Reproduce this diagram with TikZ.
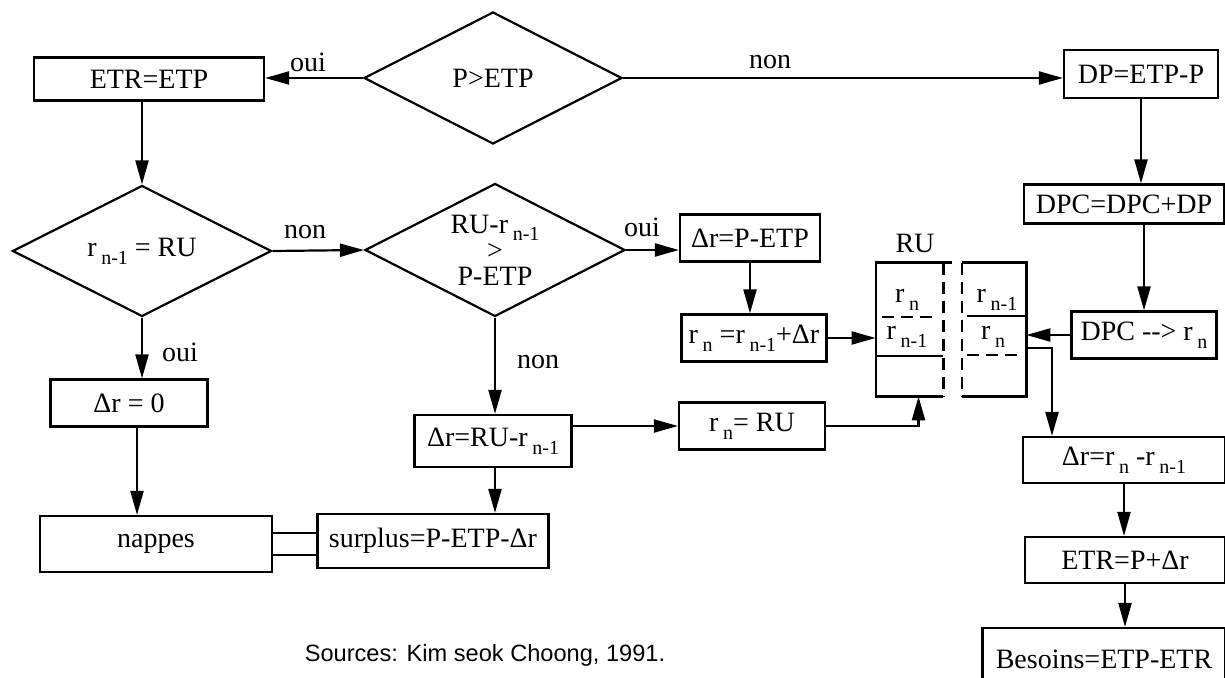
\documentclass[tikz,border=0pt]{standalone}
\usepackage{fontspec}
\setmainfont{Liberation Serif}
\newfontfamily\srcfont{Liberation Sans}
\usetikzlibrary{arrows.meta,shapes.geometric}
\newcommand{\subidx}[1]{\,\raisebox{-0.6ex}{\fontsize{10}{10}\selectfont #1}}

\begin{document}
\begin{tikzpicture}[x=0.5pt,y=-0.5pt,
    box/.style={draw,line width=1.1pt,inner sep=0pt,font=\fontsize{14}{16}\selectfont,align=center},
    dec/.style={draw,diamond,shape aspect=2,line width=1.1pt,inner sep=0pt,
                font=\fontsize{14}{13}\selectfont,align=center},
    arr/.style={-{Triangle[length=12pt,width=6.5pt]},line width=1.1pt},
    wall/.style={line width=1.1pt},
    gap/.style={line width=1.1pt,dash pattern=on 6pt off 3.5pt},
    lbl/.style={inner sep=0pt,font=\fontsize{14}{16}\selectfont}
  ]
    \useasboundingbox (0,0) rectangle (1225,678);
    \node[box,minimum width=115pt,minimum height=21.5pt] (etretp) at (149,79) {ETR=ETP};
    \node[dec,minimum width=129pt,minimum height=66pt] (pgtetp) at (493,78) {P>ETP};
    \node[box,minimum width=77pt,minimum height=24pt] (dp) at (1141,74) {DP=ETP-P};
    \node[box,minimum width=100pt,minimum height=19.5pt] (dpc) at (1124,204) {DPC=DPC+DP};
    \node[box,minimum width=72.5pt,minimum height=23.5pt] (dpcr) at (1144,335) {DPC -{}-{}> r\subidx{n}};
    \node[dec,minimum width=129.5pt,minimum height=65.5pt] (rneq) at (142,251) {r\subidx{n-1} = RU};
    \node[dec,minimum width=130pt,minimum height=66.5pt] (rudiam) at (495,250) {RU-r\subidx{n-1}\\>\\P-ETP};
    \node[box,minimum width=70pt,minimum height=23.5pt] (drp) at (750,238) {Δr=P-ETP};
    \node[box,minimum width=72.5pt,minimum height=23.5pt] (rnupd) at (754,338) {r\subidx{n} =r\subidx{n-1}+Δr};
    \node[box,minimum width=78.5pt,minimum height=23.5pt] (dr0) at (129,403) {Δr = 0};
    \node[box,minimum width=116pt,minimum height=28pt] (nappes) at (156,544) {nappes};
    \node[box,minimum width=78.5pt,minimum height=26pt] (drru) at (493,441) {Δr=RU-r\subidx{n-1}};
    \node[box,minimum width=115.5pt,minimum height=27pt] (surplus) at (433,541) {surplus=P-ETP-Δr};
    \node[box,minimum width=73pt,minimum height=23.5pt] (rnru) at (752,426) {r\subidx{n}= RU};
    \node[box,minimum width=101pt,minimum height=23pt] (drrn) at (1124,460) {Δr=r\subidx{n} -r\subidx{n-1}};
    \node[box,minimum width=100pt,minimum height=23pt] (etrp) at (1125,560) {ETR=P+Δr};
    \node[box,minimum width=121.5pt,minimum height=31pt] (besoins) at (1104,659) {Besoins=ETP-ETR};

    \node[inner sep=0pt,minimum width=33.5pt,minimum height=66.5pt] (ruleft) at (909.5,329.5) {};
    \node[inner sep=0pt,minimum width=32pt,minimum height=66.5pt] (ruright) at (994,329.5) {};
    \draw[wall] ([xshift=4.5pt]ruleft.north east) -- (ruleft.north west) -- (ruleft.south west) -- (ruleft.south east);
    \draw[gap] (ruleft.north east) -- (ruleft.south east);
    \draw[wall] (ruright.north west) -- (ruright.north east) -- (ruright.south east) -- (ruright.south west);
    \draw[gap] (ruright.north west) -- (ruright.south west);
    \draw[gap] (882,317) -- (937,317);
    \draw[wall] (876,356) -- (943,356);
    \draw[wall] (967,316) -- (1026,316);
    \draw[gap] (967,355) -- (1020,355);
    \node[lbl] (lrn) at (907,300) {r\subidx{n}};
    \node[lbl] (lrnm) at (907,337) {r\subidx{n-1}};
    \node[lbl] (rrnm) at (997,300) {r\subidx{n-1}};
    \node[lbl] (rrn) at (993,337) {r\subidx{n}};
    \node[lbl] (rutitle) at (915,243) {RU};

    \node[lbl] (oui1) at (308,62) {oui};
    \node[lbl] (non1) at (770,62) {non};
    \node[lbl] (non2) at (305,232) {non};
    \node[lbl] (oui2) at (180,352) {oui};
    \node[lbl] (oui3) at (642,227) {oui};
    \node[lbl] (non3) at (538,362) {non};
    \node[inner sep=0pt,font=\srcfont\fontsize{11.8}{14}\selectfont] (source) at (485,655) {Sources: Kim seok Choong, 1991.};

    \draw[arr] (pgtetp.west) -- (pgtetp.west -| etretp.east);
    \draw[arr] (pgtetp.east) -- (pgtetp.east -| dp.west);
    \draw[arr] (rneq.north |- etretp.south) -- (rneq.north);
    \draw[arr] (dp.south) -- (dp.south |- dpc.north);
    \draw[arr] (dpcr.north |- dpc.south) -- (dpcr.north);
    \draw[arr] (dpcr.west) -- (dpcr.west -| ruright.east);
    \draw[arr] (rneq.east) -- (rudiam.west);
    \draw[arr] (rudiam.east) -- (rudiam.east -| drp.west);
    \draw[arr] (drp.south) -- (drp.south |- rnupd.north);
    \draw[arr] (rnupd.east) -- (rnupd.east -| ruleft.west);
    \draw[arr] (rneq.south) -- (rneq.south |- dr0.north);
    \draw[arr] ([xshift=4pt]dr0.south) -- ([xshift=4pt]dr0.south |- nappes.north);
    \draw[arr] (rudiam.south) -- (rudiam.south |- drru.north);
    \draw[arr] (rudiam.south |- drru.south) -- (rudiam.south |- surplus.north);
    \draw[arr] (rnru.west -| drru.east) -- (rnru.west);
    \draw[arr] (rnru.east) -| ([xshift=4.5pt]ruleft.south);
    \coordinate (ruout) at (1052,348);
    \draw[arr] (ruout -| ruright.east) -- (ruout) -- (ruout |- drrn.north);
    \draw[arr] (drrn.south) -- (drrn.south |- etrp.north);
    \draw[arr] (etrp.south) -- (etrp.south |- besoins.north);
    \draw[wall,double,double distance=10pt] (nappes.east) -- (nappes.east -| surplus.west);
\end{tikzpicture}
\end{document}
